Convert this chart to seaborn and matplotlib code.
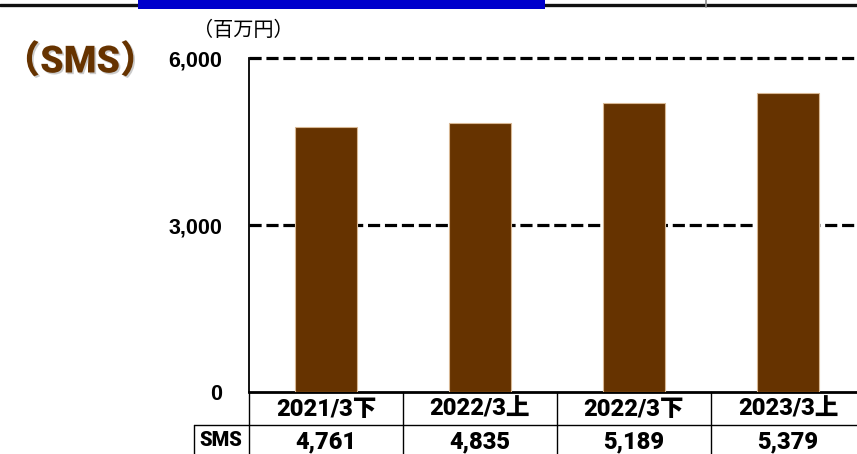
import matplotlib
matplotlib.use("Agg")
import matplotlib.pyplot as plt
import seaborn as sns
import pandas as pd
from matplotlib.lines import Line2D
from matplotlib.patches import Rectangle
import matplotlib.patheffects as pe

categories = ["2021/3下", "2022/3上", "2022/3下", "2023/3上"]
sms_values = [4761, 4835, 5189, 5379]
y_ticks = [0, 3000, 6000]
series_name = "SMS"
unit_label = "（百万円）"
panel_title = "（SMS）"

sns.set_theme(style="white")

CELL = ["Roboto", "Noto Sans CJK JP"]
WIDE = ["Liberation Sans", "Noto Sans CJK JP"]
plt.rcParams["font.family"] = WIDE
plt.rcParams["text.color"] = "black"

W, H = 857, 454
fig = plt.figure(figsize=(W / 100, H / 100), dpi=100)

def fx(px):
    return px / W

def fy(py):
    return 1 - py / H

ax_left, ax_right, ax_top, ax_bottom = 249, 865, 58, 392
ax = fig.add_axes([fx(ax_left), fy(ax_bottom), fx(ax_right - ax_left), (ax_bottom - ax_top) / H])

df = pd.DataFrame({"period": categories, "value": sms_values})
sns.barplot(data=df, x="period", y="value", color="#663300", width=0.4,
            edgecolor="#d8b894", linewidth=0.8, saturation=1, ax=ax, zorder=3)

ax.set_xlim(-0.5, len(categories) - 0.5)
ax.set_ylim(0, 6000)
ax.set_xlabel("")
ax.set_ylabel("")
ax.set_xticks([])
ax.set_yticks(y_ticks)
ax.set_yticklabels([f"{v:,}" for v in y_ticks], fontsize=15.5, fontweight="bold",
                   family=WIDE, color="black")
ax.tick_params(axis="y", length=0, pad=19)

for t in y_ticks[1:]:
    ax.axhline(t, color="black", lw=2.3, dashes=(3.8, 1.5), zorder=2, clip_on=False)

for side in ("top", "right"):
    ax.spines[side].set_visible(False)
ax.spines["left"].set_color("black")
ax.spines["left"].set_linewidth(1.3)
ax.spines["bottom"].set_color("black")
ax.spines["bottom"].set_linewidth(2.0)

# data table under the plot
row_split = 425
col_w = (ax_right - ax_left) / len(categories)
lines = [
    ((ax_left, ax_left), (ax_bottom, H)),
    ((194, 194), (row_split, H)),
    ((194, W), (row_split, row_split)),
]
for k in range(1, len(categories)):
    xk = ax_left + k * col_w
    lines.append(((xk, xk), (ax_bottom, H)))
for xs, ys in lines:
    fig.add_artist(Line2D([fx(x) for x in xs], [fy(y) for y in ys],
                          color="black", lw=1.0, transform=fig.transFigure))

for k, (cat, val) in enumerate(zip(categories, sms_values)):
    cx = ax_left + (k + 0.5) * col_w
    fig.text(fx(cx), fy(409), cat, ha="center", va="center", fontsize=17,
             fontweight=900, family=CELL, color="black")
    fig.text(fx(cx), fy(442), f"{val:,}", ha="center", va="center", fontsize=17,
             fontweight=900, family=CELL, color="black")
fig.text(fx(221), fy(441), series_name, ha="center", va="center", fontsize=14.5,
         fontweight=900, family=CELL, color="black")

# header decorations
fig.add_artist(Line2D([0, 1], [fy(4.5), fy(4.5)], color="#111111", lw=2.4,
                      transform=fig.transFigure))
fig.add_artist(Line2D([fx(706), fx(706)], [1, fy(7)], color="#888888", lw=1.2,
                      transform=fig.transFigure))
fig.add_artist(Rectangle((fx(138), fy(9)), fx(545 - 138), 9 / H, facecolor="#0000cc",
                         edgecolor="none", transform=fig.transFigure, zorder=5))

fig.text(fx(243), fy(30), unit_label, ha="center", va="center", fontsize=14.5,
         family=["Noto Sans CJK JP"], color="black")
fig.text(fx(80), fy(62), panel_title, ha="center", va="center", fontsize=27,
         fontweight=900, color="#663300", family=["Roboto", "Noto Sans CJK JP"],
         path_effects=[pe.SimplePatchShadow(offset=(1.2, -1.2), shadow_rgbFace="#999999", alpha=0.5),
                       pe.Normal()])

fig.savefig("out.png", dpi=100)
